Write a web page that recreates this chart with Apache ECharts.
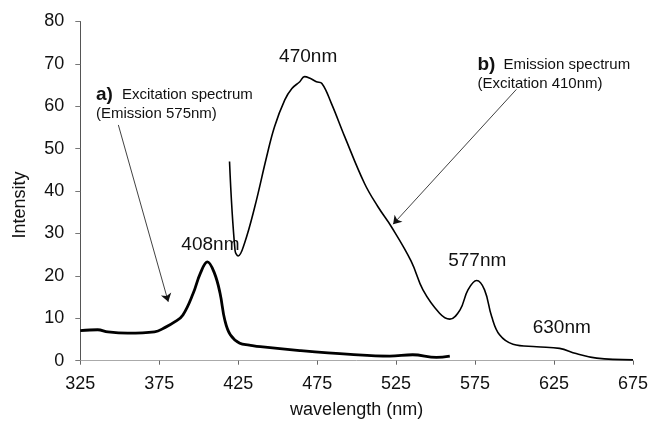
<!DOCTYPE html>
<html>
<head>
<meta charset="utf-8">
<script src="https://cdn.jsdelivr.net/npm/echarts@6/dist/echarts.min.js"></script>
<style>
  html, body { margin: 0; padding: 0; background: #fff; }
  #main { width: 651px; height: 428px; }
</style>
</head>
<body>
<div id="main"></div>
<script>
// a) excitation spectrum (emission 575nm)
const excitationWl = [325, 336, 342.5, 355, 372, 378.5, 385, 390, 396.5, 401, 405.5, 410, 413.5, 416.5, 420, 426, 432, 439, 464, 496, 521, 535.5, 550.5, 559];
const excitationI = [7.1, 7.3, 6.8, 6.5, 6.8, 7.8, 9.2, 10.8, 15.9, 20.6, 23.3, 20.6, 15.9, 9.6, 6.1, 4.1, 3.7, 3.3, 2.4, 1.5, 1.1, 1.4, 0.8, 1.1];

// b) emission spectrum (excitation 410nm)
const emissionWl = [419.5, 423, 425, 429, 435.5, 443, 448, 454.5, 459, 464, 467, 470.5, 474.5, 478, 484, 492.5, 505, 513.5, 522, 534.5, 542, 552.5, 559, 565.5, 570.5, 576, 581, 585.5, 590.5, 599, 614, 628.5, 639, 652, 675];
const emissionI = [47, 26, 24.7, 27.7, 36.3, 48.1, 55.2, 61.5, 64.2, 65.8, 67.0, 66.6, 65.8, 65.4, 60.7, 52.8, 41.8, 36.3, 31.6, 23.5, 16.7, 11.2, 9.8, 12.0, 16.7, 18.9, 16.7, 10.4, 6.1, 3.9, 3.3, 2.9, 1.7, 0.6, 0.2];

// peak labels: text, wavelength, intensity (centre of the text)
const peakText = ['470nm', '408nm', '577nm', '630nm'];
const peakWl = [469.3, 407.4, 576.4, 629.9];
const peakI = [71.8, 27.3, 23.5, 7.8];

// arrows [start, tip] in data coords
const arrowA = [[349.1, 55.6], [380.7, 13.9]];
const arrowB = [[601.2, 64.0], [523.1, 32.2]];

const FONT = 'Arial, "Liberation Sans", sans-serif';

const zip = (xs, ys) => xs.map((x, i) => [x, ys[i]]);

const chart = echarts.init(document.getElementById('main'));

chart.setOption({
  animation: false,
  backgroundColor: '#fff',
  grid: { left: 80.3, right: 17.7, top: 21.5, bottom: 67.3 },
  xAxis: {
    type: 'value',
    min: 325,
    max: 675,
    interval: 50,
    name: 'wavelength (nm)',
    nameLocation: 'middle',
    nameGap: 40,
    nameTextStyle: { fontFamily: FONT, fontSize: 18, color: '#111' },
    axisLine: { lineStyle: { color: '#aaa', width: 1 } },
    axisTick: { show: true, length: 4, lineStyle: { color: '#666' } },
    axisLabel: { fontFamily: FONT, fontSize: 18, color: '#111', margin: 14 },
    splitLine: { show: false }
  },
  yAxis: {
    type: 'value',
    min: 0,
    max: 80,
    interval: 10,
    axisLine: { show: true, lineStyle: { color: '#555', width: 1 } },
    axisTick: { show: true, length: 5, lineStyle: { color: '#777' } },
    axisLabel: { fontFamily: FONT, fontSize: 18, color: '#111', margin: 16 },
    splitLine: { show: false }
  },
  series: [
    {
      name: 'excitation',
      type: 'line',
      data: zip(excitationWl, excitationI),
      showSymbol: false,
      smooth: 0.4,
      lineStyle: { color: '#000', width: 2.8 },
      markLine: {
        silent: true,
        symbol: ['none', 'arrow'],
        symbolSize: 8,
        lineStyle: { color: '#111', width: 0.8, type: 'solid' },
        label: { show: false },
        data: [[{ coord: arrowA[0] }, { coord: arrowA[1] }]]
      }
    },
    {
      name: 'emission',
      type: 'line',
      data: zip(emissionWl, emissionI),
      showSymbol: false,
      smooth: 0.4,
      lineStyle: { color: '#000', width: 1.6 },
      markLine: {
        silent: true,
        symbol: ['none', 'arrow'],
        symbolSize: 8,
        lineStyle: { color: '#111', width: 0.8, type: 'solid' },
        label: { show: false },
        data: [[{ coord: arrowB[0] }, { coord: arrowB[1] }]]
      }
    }
  ]
});

// annotations placed from data coords
function px(wl, v) {
  return chart.convertToPixel({ gridIndex: 0 }, [wl, v]);
}

const graphics = [];
peakText.forEach((t, i) => {
  const p = px(peakWl[i], peakI[i]);
  graphics.push({
    type: 'text', x: p[0], y: p[1],
    style: { text: t, font: '19px ' + FONT, fill: '#111', textAlign: 'center', textVerticalAlign: 'middle', verticalAlign: 'middle' }
  });
});

function note(tag, line1, line2, wl, v1, v2) {
  const p1 = px(wl, v1);
  const p2 = px(wl, v2);
  graphics.push({
    type: 'text', x: p1[0], y: p1[1],
    style: { text: tag, font: 'bold 19px ' + FONT, fill: '#111', textAlign: 'left', textVerticalAlign: 'middle', verticalAlign: 'middle' }
  });
  graphics.push({
    type: 'text', x: p1[0] + 26, y: p1[1],
    style: { text: line1, font: '15px ' + FONT, fill: '#111', textAlign: 'left', textVerticalAlign: 'middle', verticalAlign: 'middle' }
  });
  graphics.push({
    type: 'text', x: p2[0], y: p2[1],
    style: { text: line2, font: '15px ' + FONT, fill: '#111', textAlign: 'left', textVerticalAlign: 'middle', verticalAlign: 'middle' }
  });
}
note('a)', 'Excitation spectrum', '(Emission 575nm)', 334.9, 62.8, 58.3);
note('b)', 'Emission spectrum', '(Excitation 410nm)', 576.5, 69.7, 65.2);

// y axis title
graphics.push({
  type: 'text', x: 20, y: 205, rotation: Math.PI / 2,
  style: { text: 'Intensity', font: '18px ' + FONT, fill: '#111', textAlign: 'center', textVerticalAlign: 'middle', verticalAlign: 'middle' }
});

chart.setOption({ graphic: graphics });
</script>
</body>
</html>
